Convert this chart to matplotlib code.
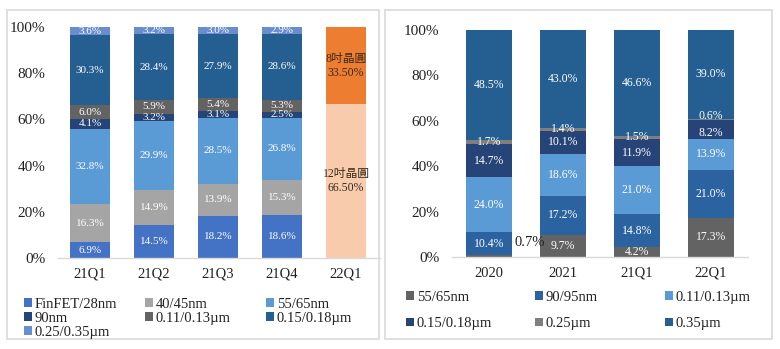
import matplotlib
matplotlib.use("Agg")
import matplotlib.pyplot as plt
from matplotlib.patches import Rectangle, Patch
import numpy as np

# ---------------- data ----------------
left_categories = ["21Q1", "21Q2", "21Q3", "21Q4"]
left_series = ["FinFET/28nm", "40/45nm", "55/65nm", "90nm",
               "0.11/0.13\u00b5m", "0.15/0.18\u00b5m", "0.25/0.35\u00b5m"]
finfet_28 = [6.9, 14.5, 18.2, 18.6]
nm_40_45 = [16.3, 14.9, 13.9, 15.3]
nm_55_65 = [32.8, 29.9, 28.5, 26.8]
nm_90 = [4.1, 3.2, 3.1, 2.5]
um_011_013 = [6.0, 5.9, 5.4, 5.3]
um_015_018 = [30.3, 28.4, 27.9, 28.6]
um_025_035 = [3.6, 3.2, 3.0, 2.9]

wafer_category = "22Q1"
wafer_labels = ["12吋晶圓", "8吋晶圓"]
wafer_values = [66.5, 33.5]

right_categories = ["2020", "2021", "21Q1", "22Q1"]
right_series = ["55/65nm", "90/95nm", "0.11/0.13\u00b5m",
                "0.15/0.18\u00b5m", "0.25\u00b5m", "0.35\u00b5m"]
r_55_65 = [0.7, 9.7, 4.2, 17.3]
r_90_95 = [10.4, 17.2, 14.8, 21.0]
r_011_013 = [24.0, 18.6, 21.0, 13.9]
r_015_018 = [14.7, 10.1, 11.9, 8.2]
r_025 = [1.7, 1.4, 1.5, 0.6]
r_035 = [48.5, 43.0, 46.6, 39.0]

yticks = [0, 20, 40, 60, 80, 100]
ytick_labels = ["0%", "20%", "40%", "60%", "80%", "100%"]

# ---------------- style ----------------
SERIF = ["Liberation Serif", "Noto Sans CJK TC", "DejaVu Sans"]
plt.rcParams["font.family"] = SERIF

left_colors = ["#4472C4", "#A5A5A5", "#5B9BD5", "#264478",
               "#636363", "#255E91", "#698ED0"]
wafer_colors = ["#F8CBAD", "#ED7D31"]
right_colors = ["#636363", "#2B63A0", "#5B9BD5", "#264478",
                "#7F7F7F", "#255E91"]

W, H = 780, 349
fig = plt.figure(figsize=(W / 100, H / 100), dpi=100)


def fx(px):
    return px / W


def fy(py):
    return 1 - py / H


# panel frames
for x0, y0, x1, y1 in [(7, 10, 379, 339), (385, 10, 772, 339)]:
    fig.patches.append(Rectangle((fx(x0), fy(y1)), fx(x1 - x0), (y1 - y0) / H,
                                 transform=fig.transFigure, fill=False,
                                 edgecolor="#D9D9D9", linewidth=1.2))

# ---------------- left chart ----------------
axL = fig.add_axes([fx(58), fy(258), fx(320), 231 / H])
left_data = [finfet_28, nm_40_45, nm_55_65, nm_90, um_011_013, um_015_018, um_025_035]
xL = np.arange(len(left_categories))
bw = 0.625
bottom = np.zeros(len(xL))
left_handles = []
for name, vals, col in zip(left_series, left_data, left_colors):
    vals = np.array(vals)
    bars = axL.bar(xL, vals, bw, bottom=bottom, color=col, label=name)
    left_handles.append(bars)
    for xi, b, v in zip(xL, bottom, vals):
        axL.text(xi, b + v / 2, f"{v:.1f}%", ha="center", va="center",
                 color="white", fontsize=8, family=SERIF)
    bottom += vals

xw = len(left_categories)
wb = 0.0
for lab, v, col in zip(wafer_labels, wafer_values, wafer_colors):
    axL.bar(xw, v, bw, bottom=wb, color=col)
    axL.text(xw, wb + v / 2, f"{lab}\n{v:.2f}%", ha="center", va="center",
             color="#3A2A1A", fontsize=8.5, linespacing=1.2,
             family=["Liberation Serif", "Noto Sans CJK TC"])
    wb += v

axL.set_xlim(-0.5, 4.5)
axL.set_ylim(0, 100)
axL.set_xticks(list(xL) + [xw])
axL.set_xticklabels(left_categories + [wafer_category])
axL.set_yticks(yticks)
axL.set_yticklabels(ytick_labels)

# ---------------- right chart ----------------
axR = fig.add_axes([fx(452), fy(257), fx(296), 227 / H])
right_data = [r_55_65, r_90_95, r_011_013, r_015_018, r_025, r_035]
xR = np.arange(len(right_categories))
bwR = 0.62
bottom = np.zeros(len(xR))
right_handles = []
for si, (name, vals, col) in enumerate(zip(right_series, right_data, right_colors)):
    vals = np.array(vals)
    bars = axR.bar(xR, vals, bwR, bottom=bottom, color=col, label=name)
    right_handles.append(bars)
    for xi, b, v in zip(xR, bottom, vals):
        if si == 0 and v < 1:
            axR.annotate(f"{v:.1f}%", xy=(xi + bwR / 2, b + v),
                         xytext=(2, 9), textcoords="offset points",
                         ha="left", va="center", color="#222222",
                         fontsize=10.5, family=SERIF)
        else:
            # tiny neighbouring segments: nudge labels apart slightly
            dy = 0
            if si == 4 and v < 1:
                dy = 2.5
            elif si == 3 and r_025[xi] < 1:
                dy = -2.5
            axR.annotate(f"{v:.1f}%", xy=(xi, b + v / 2), xytext=(0, dy),
                         textcoords="offset points", ha="center", va="center",
                         color="white", fontsize=8.5, family=SERIF)
    bottom += vals

axR.set_xlim(-0.5, 3.5)
axR.set_ylim(0, 100)
axR.set_xticks(xR)
axR.set_xticklabels(right_categories)
axR.set_yticks(yticks)
axR.set_yticklabels(ytick_labels)

for ax in (axL, axR):
    for s in ("top", "right", "left"):
        ax.spines[s].set_visible(False)
    ax.spines["bottom"].set_color("#D9D9D9")
    ax.spines["bottom"].set_linewidth(1.0)
    ax.tick_params(axis="both", length=0, colors="#222222")
    ax.tick_params(axis="y", pad=9, labelsize=11)
    ax.tick_params(axis="x", pad=7, labelsize=10.5)
    ax.set_facecolor("none")

# extend left x-axis line to the frame edge (like reference)
axL.spines["bottom"].set_bounds(-0.5, 4.53)
axL.spines["bottom"].set_clip_on(False)


# ---------------- legends ----------------
def column_legend(handles, labels, xpx, ypx, spacing):
    hs = [Patch(facecolor=h.patches[0].get_facecolor()) for h in handles]
    leg = fig.legend(hs, labels, loc="upper left",
                     bbox_to_anchor=(fx(xpx), fy(ypx)),
                     bbox_transform=fig.transFigure,
                     frameon=False, fontsize=10.5,
                     handlelength=0.55, handleheight=0.55,
                     handletextpad=0.2, labelspacing=spacing,
                     borderpad=0, borderaxespad=0)
    for t in leg.get_texts():
        t.set_color("#222222")
    return leg


# left legend columns (row-wise order in reference)
Lcols = [[0, 3, 6], [1, 4], [2, 5]]
Lx = [24, 145, 266]
for cols, x in zip(Lcols, Lx):
    column_legend([left_handles[i] for i in cols],
                  [left_series[i] for i in cols], x, 298, 0.06)

Rcols = [[0, 3], [1, 4], [2, 5]]
Rx = [406, 535, 665]
for cols, x in zip(Rcols, Rx):
    column_legend([right_handles[i] for i in cols],
                  [right_series[i] for i in cols], x, 291, 0.9)

fig.savefig("out.png", dpi=100, facecolor="white")
